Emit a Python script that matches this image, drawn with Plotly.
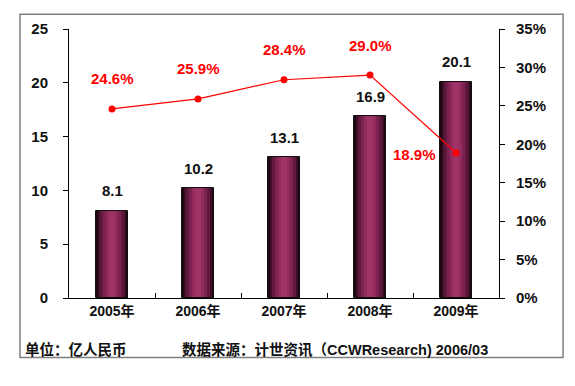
import plotly.graph_objects as go

years = ["2005年", "2006年", "2007年", "2008年", "2009年"]
market = [8.1, 10.2, 13.1, 16.9, 20.1]
growth = [24.6, 25.9, 28.4, 29.0, 18.9]
left_ticks = [0, 5, 10, 15, 20, 25]
right_ticks = [0, 5, 10, 15, 20, 25, 30, 35]
unit_text = "单位：亿人民币"
source_text = "数据来源：计世资讯（CCWResearch) 2006/03"

FONT = "Liberation Sans, Arial, Noto Sans CJK SC"

fig = go.Figure()

# cylinder-like shading via overlaid bars
layers = [(0.38, "#1e0612"), (0.33, "#3f0f28"), (0.27, "#61183d"),
          (0.21, "#7c2250"), (0.14, "#932b5e"), (0.07, "#a03366")]
for w, c in layers:
    fig.add_trace(go.Bar(x=years, y=market, width=w, marker_color=c,
                         marker_line_width=0, yaxis="y", hoverinfo="skip",
                         showlegend=False))
# outline
fig.add_trace(go.Bar(x=years, y=market, width=0.38, marker_color="rgba(0,0,0,0)",
                     marker_line_color="#111111", marker_line_width=1,
                     yaxis="y", showlegend=False))

fig.add_trace(go.Scatter(x=years, y=growth, yaxis="y2", mode="lines+markers",
                         line=dict(color="#ff0000", width=1.2),
                         marker=dict(color="#ff0000", size=7),
                         showlegend=False))

ann = []
for x, v in zip(years, market):
    ann.append(dict(x=x, y=v, xref="x", yref="y", text=f"{v:.1f}", showarrow=False,
                    yshift=20, font=dict(family=FONT, size=15, color="#111111", weight="bold")))
for i, (x, g) in enumerate(zip(years, growth)):
    if i == len(years) - 1:
        xs, ys = -42, -2
    else:
        xs, ys = 0, 30
    ann.append(dict(x=x, y=g, xref="x", yref="y2", text=f"{g:.1f}%", showarrow=False,
                    xshift=xs, yshift=ys,
                    font=dict(family=FONT, size=15, color="#ff0000", weight="bold")))
ann.append(dict(x=-0.107, y=-0.19, xref="paper", yref="paper", text=unit_text,
                showarrow=False, xanchor="left", yanchor="middle",
                font=dict(family=FONT, size=14.5, color="#111111", weight="bold")))
ann.append(dict(x=0.258, y=-0.19, xref="paper", yref="paper", text=source_text,
                showarrow=False, xanchor="left", yanchor="middle",
                font=dict(family=FONT, size=14.5, color="#111111", weight="bold")))

fig.update_layout(
    width=567, height=378,
    margin=dict(l=61, r=76, t=19, b=88),
    paper_bgcolor="white", plot_bgcolor="white",
    barmode="overlay", bargap=0,
    annotations=ann,
    xaxis=dict(type="category", showline=True, linecolor="#000000", linewidth=1,
               ticks="inside", tickson="boundaries", ticklen=5, tickcolor="#000000",
               showgrid=False, tickfont=dict(family=FONT, size=14, color="#111111", weight="bold"),
               range=[-0.5, 4.5]),
    yaxis=dict(range=[0, 25], tickvals=left_ticks, showline=True, linecolor="#000000",
               linewidth=1, ticks="outside", ticklen=5, tickcolor="#000000",
               showgrid=False, zeroline=False, ticklabelstandoff=12,
               tickfont=dict(family=FONT, size=15, color="#111111", weight="bold")),
    yaxis2=dict(range=[0, 35], tickvals=right_ticks, ticktext=[f"{t}%" for t in right_ticks],
                overlaying="y", side="right", showline=True, linecolor="#000000",
                linewidth=1, ticks="outside", ticklen=5, tickcolor="#000000",
                showgrid=False, zeroline=False, ticklabelstandoff=8,
                tickfont=dict(family=FONT, size=15, color="#111111", weight="bold")),
    shapes=[dict(type="rect", xref="paper", yref="paper", x0=-0.114, x1=1.149,
                 y0=-0.221, y1=1.055, line=dict(color="#7f7f7f", width=1.5),
                 fillcolor="rgba(0,0,0,0)", layer="below")],
)

fig.write_html("out.html")
